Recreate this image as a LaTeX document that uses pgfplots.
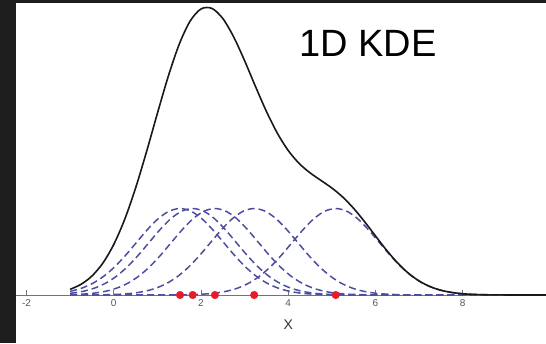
\documentclass[border=0pt]{standalone}
\usepackage{fontspec}
\setmainfont{Liberation Sans}
\usepackage{pgfplots}
\pgfplotsset{compat=1.18}
\definecolor{bgdark}{HTML}{1E1E1E}
\definecolor{kblue}{RGB}{78,78,160}
\definecolor{kred}{RGB}{232,28,40}
\begin{document}
\begin{tikzpicture}
\useasboundingbox (0,0) rectangle (546pt,343pt);
\clip (0,0) rectangle (546pt,343pt);
\fill[bgdark] (0,0) rectangle (546pt,343pt);
\fill[white] (16pt,0) rectangle (546pt,340pt);
\begin{axis}[
  at={(16pt,0pt)}, anchor=south west,
  scale only axis, width=530pt, height=340pt,
  xmin=-2.24, xmax=9.91, ymin=-0.555, ymax=3.376,
  axis x line=middle, axis y line=none,
  axis line style={-, draw=gray!90!black, line width=0.9pt},
  hide obscured x ticks=false,
  xtick={-2,0,2,4,6,8,10},
  tick align=inside, major tick length=5pt,
  tick style={gray!90!black, line width=0.9pt},
  /pgf/number format/assume math mode=true,
  xticklabel style={font=\fontsize{10}{12}\selectfont, text=black!65, yshift=-1pt},
  xlabel={X},
  xlabel style={at={(axis description cs:0.5136,0.053)}, anchor=center, font=\fontsize{14}{16}\selectfont, text=black!80},
  clip=true,
]
% individual Gaussian kernels (sigma = 1)
\addplot[kblue, line width=1.5pt, dash pattern=on 7pt off 4pt, smooth] coordinates {
(-1,0.0418) (-0.73,0.0796) (-0.48,0.1353) (-0.23,0.2163) (0.02,0.3247) (0.27,0.4578) (0.52,0.6065) (0.77,0.7548) (1.02,0.8825) (1.27,0.9692) (1.52,1) (1.77,0.9692) (2.02,0.8825) (2.27,0.7548) (2.52,0.6065) (2.77,0.4578) (3.02,0.3247) (3.27,0.2163) (3.52,0.1353) (3.77,0.0796) (4.02,0.0439) (4.27,0.0228) (4.52,0.0111) (4.77,0.0051) (5.02,0.0022) (5.52,0.0003) (6.5,0) (10,0)};
\addplot[kblue, line width=1.5pt, dash pattern=on 7pt off 4pt, smooth] coordinates {
(-1,0.0193) (-0.69,0.0439) (-0.44,0.0796) (-0.19,0.1353) (0.06,0.2163) (0.31,0.3247) (0.56,0.4578) (0.81,0.6065) (1.06,0.7548) (1.31,0.8825) (1.56,0.9692) (1.81,1) (2.06,0.9692) (2.31,0.8825) (2.56,0.7548) (2.81,0.6065) (3.06,0.4578) (3.31,0.3247) (3.56,0.2163) (3.81,0.1353) (4.06,0.0796) (4.31,0.0439) (4.56,0.0228) (4.81,0.0111) (5.06,0.0051) (5.31,0.0022) (5.81,0.0003) (6.8,0) (10,0)};
\addplot[kblue, line width=1.5pt, dash pattern=on 7pt off 4pt, smooth] coordinates {
(-1,0.0040) (-0.68,0.0111) (-0.43,0.0228) (-0.18,0.0439) (0.07,0.0796) (0.32,0.1353) (0.57,0.2163) (0.82,0.3247) (1.07,0.4578) (1.32,0.6065) (1.57,0.7548) (1.82,0.8825) (2.07,0.9692) (2.32,1) (2.57,0.9692) (2.82,0.8825) (3.07,0.7548) (3.32,0.6065) (3.57,0.4578) (3.82,0.3247) (4.07,0.2163) (4.32,0.1353) (4.57,0.0796) (4.82,0.0439) (5.07,0.0228) (5.32,0.0111) (5.57,0.0051) (5.82,0.0022) (6.32,0.0003) (7.3,0) (10,0)};
\addplot[kblue, line width=1.5pt, dash pattern=on 7pt off 4pt, smooth] coordinates {
(-1,0.0001) (-0.28,0.0022) (-0.03,0.0051) (0.22,0.0111) (0.47,0.0228) (0.72,0.0439) (0.97,0.0796) (1.22,0.1353) (1.47,0.2163) (1.72,0.3247) (1.97,0.4578) (2.22,0.6065) (2.47,0.7548) (2.72,0.8825) (2.97,0.9692) (3.22,1) (3.47,0.9692) (3.72,0.8825) (3.97,0.7548) (4.22,0.6065) (4.47,0.4578) (4.72,0.3247) (4.97,0.2163) (5.22,0.1353) (5.47,0.0796) (5.72,0.0439) (5.97,0.0228) (6.22,0.0111) (6.47,0.0051) (6.72,0.0022) (7.22,0.0003) (8.2,0) (10,0)};
\addplot[kblue, line width=1.5pt, dash pattern=on 7pt off 4pt, smooth] coordinates {
(-1,0) (0.1,0) (1.09,0.0003) (1.59,0.0022) (1.84,0.0051) (2.09,0.0111) (2.34,0.0228) (2.59,0.0439) (2.84,0.0796) (3.09,0.1353) (3.34,0.2163) (3.59,0.3247) (3.84,0.4578) (4.09,0.6065) (4.34,0.7548) (4.59,0.8825) (4.84,0.9692) (5.09,1) (5.34,0.9692) (5.59,0.8825) (5.84,0.7548) (6.09,0.6065) (6.34,0.4578) (6.59,0.3247) (6.84,0.2163) (7.09,0.1353) (7.34,0.0796) (7.59,0.0439) (7.84,0.0228) (8.09,0.0111) (8.34,0.0051) (8.59,0.0022) (9.09,0.0003) (10,0)};
% kernel density estimate (sum of kernels)
\addplot[black!90, line width=1.6pt, smooth] coordinates {
(-1,0.0652) (-0.75,0.1232) (-0.5,0.2192) (-0.25,0.3678) (0,0.5828) (0.25,0.8722) (0.5,1.2340) (0.75,1.6526) (1,2.0976) (1.25,2.5274) (1.5,2.8968) (1.75,3.1655) (2,3.3069) (2.25,3.3138) (2.5,3.1974) (2.75,2.9840) (3,2.7094) (3.25,2.4110) (3.5,2.1232) (3.75,1.8717) (4,1.6708) (4.25,1.5214) (4.5,1.4126) (4.75,1.3249) (5,1.2372) (5.25,1.1321) (5.5,1.0016) (5.75,0.8484) (6,0.6833) (6.25,0.5210) (6.5,0.3749) (6.75,0.2542) (7,0.1622) (7.25,0.0973) (7.5,0.0549) (7.75,0.0291) (8,0.0145) (8.25,0.0068) (8.5,0.0030) (8.75,0.0012) (9,0.0005) (9.5,0.0001) (10,0)};
% data points
\addplot[only marks, mark=*, mark size=3.8pt, kred, mark options={draw=kred, fill=kred}] coordinates {
(1.52,0) (1.81,0) (2.32,0) (3.22,0) (5.09,0)};
\end{axis}
\node[font=\fontsize{38}{40}\selectfont, text=black, inner sep=0] at (368pt,300pt) {1D KDE};
\end{tikzpicture}
\end{document}
